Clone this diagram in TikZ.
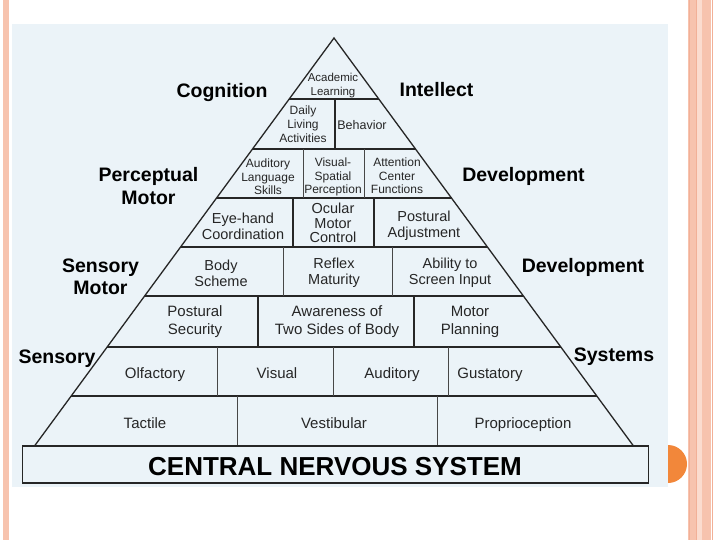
\documentclass[tikz,border=0pt]{standalone}
\usepackage{fontspec}
\setmainfont{Liberation Sans}
\definecolor{peach}{HTML}{F7C3AE}
\definecolor{peachd}{HTML}{F2B097}
\definecolor{peachl}{HTML}{FBDCCF}
\definecolor{imgbg}{HTML}{EBF3F8}
\definecolor{orng}{HTML}{F2873A}
\definecolor{ink}{HTML}{262626}
\tikzset{
  lblA/.style={inner sep=0pt, align=center, text=ink, font=\fontsize{12}{13.5}\selectfont},
  lblB/.style={inner sep=0pt, align=center, text=ink, font=\fontsize{14.5}{16}\selectfont},
  lblC/.style={inner sep=0pt, align=center, text=ink, font=\fontsize{15}{18}\selectfont},
  side/.style={inner sep=0pt, align=center, text=black, font=\fontsize{19.5}{22.5}\selectfont\bfseries},
  edge/.style={draw=ink, line width=1.3pt},
  thick edge/.style={draw=ink, line width=2.2pt},
  thin edge/.style={draw=ink!85, line width=0.9pt},
}
\begin{document}
\begin{tikzpicture}[x=1pt,y=-1pt]
\useasboundingbox (0,0) rectangle (720,540);
\fill[white] (0,0) rectangle (720,540);
% slide decorations
\fill[peach] (3,0) rectangle (9,540);
\fill[peach] (688,0) rectangle (697,540);
\draw[peachd, line width=0.8pt] (689,0) -- (689,540);
\draw[peachd, line width=0.8pt] (696,0) -- (696,540);
\fill[peachl] (697,0) rectangle (702,540);
\fill[peach] (702,0) rectangle (711,540);
\draw[peachd, line width=0.8pt] (712,0) -- (712,540);
\fill[orng] (668,464) circle (19);
% image area
\fill[imgbg] (12,24) rectangle (668,487);
% pyramid outline
\draw[edge, line join=miter] (334,38) -- (34.5,446) -- (633.5,446) -- cycle;
% horizontal dividers
\draw[edge] (289.2,99) -- (378.8,99);
\draw[thick edge] (252.5,149) -- (415.5,149);
\draw[edge] (216.5,198) -- (451.5,198);
\draw[edge] (180.6,247) -- (487.4,247);
\draw[edge] (144.6,296) -- (523.4,296);
\draw[thick edge] (107.2,347) -- (560.8,347);
\draw[edge] (71.2,396) -- (596.8,396);
% vertical dividers
\draw[edge] (335,99) -- (335,149);
\draw[thin edge] (303,149) -- (303,198);
\draw[thin edge] (364,149) -- (364,198);
\draw[edge] (293,198) -- (293,247);
\draw[edge] (374,198) -- (374,247);
\draw[thin edge] (283,247) -- (283,296);
\draw[thin edge] (392,247) -- (392,296);
\draw[edge] (258,296) -- (258,347);
\draw[edge] (414,296) -- (414,347);
\draw[thin edge] (217,347) -- (217,396);
\draw[thin edge] (333,347) -- (333,396);
\draw[thin edge] (448,347) -- (448,396);
\draw[thin edge] (237,396) -- (237,446);
\draw[thin edge] (437,396) -- (437,446);
% base box
\draw[edge] (22.5,446) rectangle (648.5,483);
\node[inner sep=0pt, anchor=base, text=black, font=\fontsize{26}{28}\selectfont\bfseries] (cns) at (335,475) {CENTRAL NERVOUS SYSTEM};
% labels inside pyramid
\node[lblA, font=\fontsize{11.5}{14}\selectfont] (acad) at (333,86) {Academic\\Learning};
\node[lblA, font=\fontsize{12}{14}\selectfont] (daily) at (303,124) {Daily\\Living\\Activities};
\node[lblA, anchor=base, font=\fontsize{12.5}{14}\selectfont] (behav) at (362,130) {Behavior};
\node[lblA] (audl) at (268,177) {Auditory\\Language\\Skills};
\node[lblA] (visp) at (333,177) {Visual-\\Spatial\\Perception};
\node[lblA] (attn) at (397,176) {Attention\\Center\\Functions};
\node[lblB] (eyeh) at (243,226) {Eye-hand\\Coordination};
\node[lblB, font=\fontsize{14.5}{14.5}\selectfont] (ocul) at (333,223) {Ocular\\Motor\\Control};
\node[lblB] (posa) at (424,226) {Postural\\Adjustment};
\node[lblB] (body) at (221,273) {Body\\Scheme};
\node[lblB] (refl) at (334,273) {Reflex\\Maturity};
\node[lblB] (abil) at (450,273) {Ability to\\Screen Input};
\node[lblC] (poss) at (195,322) {Postural\\Security};
\node[lblC] (awar) at (337,322) {Awareness of\\Two Sides of Body};
\node[lblC] (motp) at (470,322) {Motor\\Planning};
\node[lblC, anchor=base] (olf) at (155,378) {Olfactory};
\node[lblC, anchor=base] (vis) at (277,378) {Visual};
\node[lblC, anchor=base] (aud) at (392,378) {Auditory};
\node[lblC, anchor=base] (gus) at (490,378) {Gustatory};
\node[lblC, anchor=base] (tac) at (145,428) {Tactile};
\node[lblC, anchor=base] (ves) at (334,428) {Vestibular};
\node[lblC, anchor=base] (pro) at (523,428) {Proprioception};
% side labels
\node[side, anchor=base] (cog) at (222,97.3) {Cognition};
\node[side, anchor=base] (int) at (436.5,96.7) {Intellect};
\node[side] (pm) at (148.5,186) {Perceptual\\Motor};
\node[side, anchor=base] (dev1) at (523.5,181.7) {Development};
\node[side] (sm) at (100.5,277) {Sensory\\Motor};
\node[side, anchor=base] (dev2) at (583,272.7) {Development};
\node[side, anchor=base] (sens) at (57,363) {Sensory};
\node[side, anchor=base] (sys) at (614,361.7) {Systems};
\end{tikzpicture}
\end{document}
